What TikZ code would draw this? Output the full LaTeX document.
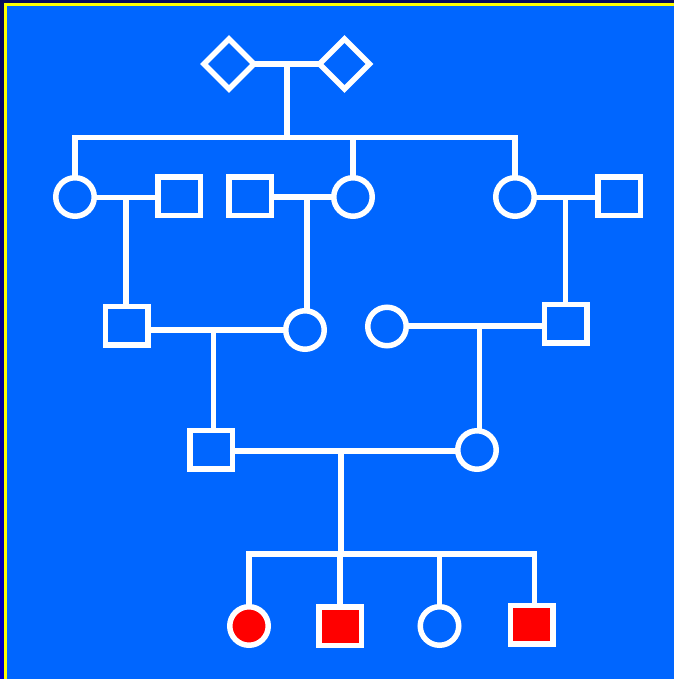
\documentclass[tikz,border=0pt]{standalone}
\usetikzlibrary{shapes.geometric}
\definecolor{bgblue}{HTML}{0066FF}
\definecolor{navy}{HTML}{0A0A5A}
\definecolor{navyb}{HTML}{0000C8}
\definecolor{ybord}{HTML}{FFFF00}
\definecolor{aff}{HTML}{FF0000}
\begin{document}
\begin{tikzpicture}[x=1pt,y=-1pt,
  line width=5.5pt, line join=miter,
  conn/.style={draw=white},
  male/.style={draw=white, rectangle, minimum width=42.5pt, minimum height=38.5pt, inner sep=0pt, outer sep=0pt},
  female/.style={draw=white, circle, minimum size=38.5pt, inner sep=0pt, outer sep=0pt},
  unknown/.style={draw=white, diamond, aspect=1, minimum width=50pt, minimum height=50pt, inner sep=0pt, outer sep=0pt},
  affected/.style={fill=aff}]
% background and frame
\fill[bgblue] (0,0) rectangle (674,679);
\fill[top color=navy, bottom color=navyb] (0,0) rectangle (4.4,679);
\fill[navy] (0,0) rectangle (674,3.4);
\fill[ybord] (4.4,3.4) rectangle (674,5.6);
\fill[ybord] (4.4,3.4) rectangle (6.7,679);
\useasboundingbox (0,0) rectangle (674,679);
% generation 1
\node[unknown] (d1) at (229,64) {};
\node[unknown] (d2) at (344.5,64) {};
\draw[conn] (d1) -- (d2);
\coordinate (m0) at (287,62.2);
\coordinate (sib1) at (287,137.5);
\draw[conn] (m0) -- (sib1);
% generation 2
\node[female] (a1) at (75,197) {};
\node[male]   (a2) at (179,196) {};
\node[male]   (a3) at (250,196) {};
\node[female] (a4) at (353,197) {};
\node[female] (a5) at (515,197) {};
\node[male]   (a6) at (619,196) {};
\coordinate (m1) at (126,197.5);
\coordinate (m2) at (307,197);
\coordinate (m3) at (565.5,197.5);
\draw[conn] (a1.north) |- (sib1) -| (a5.north);
\draw[conn] (a4.north |- sib1) -- (a4.north);
\draw[conn] (a1.east |- m1) -- (a2.west |- m1);
\draw[conn] (a3.east |- m2) -- (a4.west |- m2);
\draw[conn] (a5.east |- m3) -- (a6.west |- m3);
% generation 3
\node[male]   (b1) at (126.5,325.5) {};
\node[female] (b2) at (305,330) {};
\node[female] (b3) at (387,326.5) {};
\node[male]   (b4) at (565.5,323.5) {};
\coordinate (m4) at (213.5,330);
\coordinate (m5) at (479.5,326);
\draw[conn] (m1) -- (m1 |- b1.north);
\draw[conn] (m2) -- (m2 |- b2.north);
\draw[conn] (m3) -- (m3 |- b4.north);
\draw[conn] (b1.east |- m4) -- (b2.west |- m4);
\draw[conn] (b3.east |- m5) -- (b4.west |- m5);
% generation 4
\node[male]   (c1) at (211,449.5) {};
\node[female] (c2) at (477,450) {};
\coordinate (m6) at (341,451);
\draw[conn] (m4) -- (m4 |- c1.north);
\draw[conn] (m5) -- (m5 |- c2.north);
\draw[conn] (c1.east |- m6) -- (c2.west |- m6);
% generation 5
\coordinate (sib2) at (341,554);
\draw[conn] (m6) -- (sib2);
\node[female, affected] (e1) at (249,626) {};
\node[male, affected]   (e2) at (340,626) {};
\node[female]           (e3) at (439.5,626) {};
\node[male, affected]   (e4) at (531.5,624.5) {};
\coordinate (e4top) at (534.5,0);
\draw[conn] (e1.north) |- (sib2) -| (e4top |- e4.north);
\draw[conn] (e2.north |- sib2) -- (e2.north);
\draw[conn] (e3.north |- sib2) -- (e3.north);
\end{tikzpicture}
\end{document}
